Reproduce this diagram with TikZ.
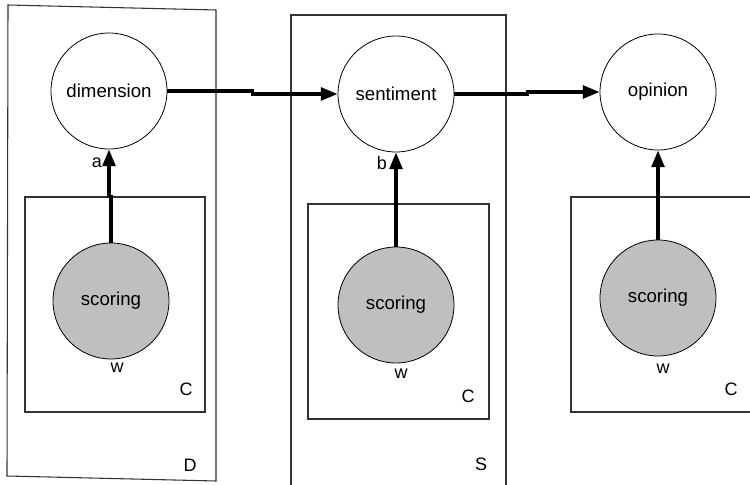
\documentclass[tikz,border=0pt]{standalone}
\usepackage{fontspec}
\setmainfont{Liberation Sans}
\usetikzlibrary{arrows.meta}

\tikzset{
  var/.style={circle, draw=black, line width=0.6pt, fill=white, minimum size=87pt, inner sep=0pt, font=\fontsize{14}{16}\selectfont},
  obs/.style={var, fill=black!25},
  plate/.style={draw=black!80, line width=0.8pt},
  link/.style={line width=2.6pt, -{Triangle[length=12.5pt,width=9.5pt]}},
  lbl/.style={font=\fontsize{13.5}{15}\selectfont, inner sep=0pt}
}

\begin{document}
\begin{tikzpicture}[x=0.75pt, y=-0.75pt]
        \useasboundingbox (0,0) rectangle (750,485);
        \draw[plate] (8,5) -- (216,10) -- (216,481) -- (7,476) -- cycle;
        \draw[plate] (291,488) -- (291,15) -- (506,15) -- (506,488);
        \draw[plate] (25,197) rectangle (205,412);
        \draw[plate] (308,204) rectangle (489,419);
        \draw[plate] (753,197) -- (571,197) -- (571,412) -- (753,412);
        \node[var] (dimension) at (109,91) {dimension};
        \node[var] (sentiment) at (396,94) {sentiment};
        \node[var] (opinion) at (658,92) {opinion};
        \node[obs] (scoringD) at (111,301) {scoring};
        \node[obs] (scoringS) at (396,305) {scoring};
        \node[obs] (scoringO) at (658,298) {scoring};
        \draw[link] (dimension.east) -- ++(85,0) |- (sentiment.west);
        \draw[link] (sentiment.east) -- ++(73,0) |- (opinion.west);
        \draw[link] (scoringD.north) -- ++(0,-46) -| (dimension.south);
        \draw[link] (scoringS.north) -- (sentiment.south);
        \draw[link] (scoringO.north) -- (opinion.south);
        \node[lbl] (a) at (97,163) {a};
        \node[lbl] (b) at (382,163) {b};
        \node[lbl] (wD) at (117,368) {w};
        \node[lbl] (wS) at (401,374) {w};
        \node[lbl] (wO) at (663,369) {w};
        \node[lbl] (cD) at (186,389) {C};
        \node[lbl] (cS) at (468,396) {C};
        \node[lbl] (cO) at (731,389) {C};
        \node[lbl] (d) at (190,465) {D};
        \node[lbl] (s) at (481,464) {S};
    \end{tikzpicture}
\end{document}
